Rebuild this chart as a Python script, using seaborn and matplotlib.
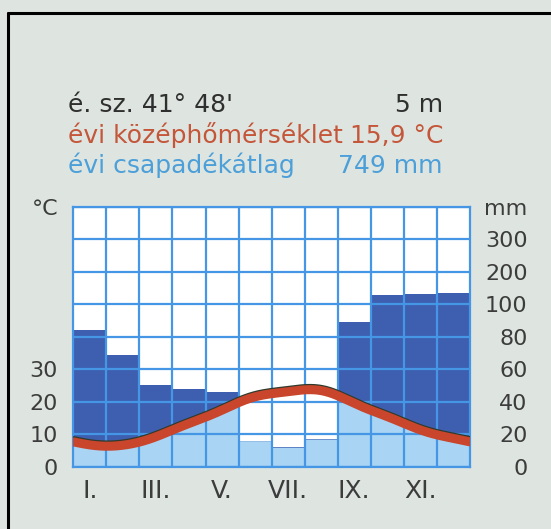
import numpy as np
import pandas as pd
import matplotlib
matplotlib.use("Agg")
import matplotlib.pyplot as plt
import matplotlib.patheffects as pe
from matplotlib.lines import Line2D
import seaborn as sns

# monthly data
months = ["I.", "II.", "III.", "IV.", "V.", "VI.", "VII.", "VIII.", "IX.", "X.", "XI.", "XII."]
temp_c = [6.7, 6.6, 9.2, 13.3, 17.4, 21.5, 23.1, 23.4, 19.5, 15.4, 11.3, 8.7]
precip_mm = [84, 69, 50, 48, 46, 16, 12, 17, 89, 128, 130, 133]

x_tick_labels = ["I.", "III.", "V.", "VII.", "IX.", "XI."]
temp_ticks = [0, 10, 20, 30, 80]
temp_tick_labels = ["0", "10", "20", "30", "°C"]
precip_ticks = [0, 20, 40, 60, 80, 100, 200, 300, 400]
precip_tick_labels = ["0", "20", "40", "60", "80", "100", "200", "300", "mm"]

header_left = ["é. sz. 41° 48'", "évi középhőmérséklet", "évi csapadékátlag"]
header_right = ["5 m", "15,9 °C", "749 mm"]

BG = "#dee5e0"
GRID = "#4597e6"
DARK = "#3e5fb0"
LIGHT = "#a9d4f4"
RED = "#c9452b"
TXT = "#3c3c3c"


def precip_forward(mm):
    mm = np.asarray(mm, dtype=float)
    return np.where(mm <= 100, mm / 20.0, 5 + (mm - 100) / 100.0)


def precip_inverse(r):
    r = np.asarray(r, dtype=float)
    return np.where(r <= 5, r * 20.0, 100 + (r - 5) * 100.0)


def smooth_temperature(values, xs):
    # periodic trigonometric interpolation through the monthly means
    vals = np.asarray(values, dtype=float)
    n = len(vals)
    coef = np.fft.rfft(vals) / n
    out = np.full_like(xs, coef[0].real)
    for k in range(1, n // 2 + 1):
        w = 1.0 if k == n // 2 else 2.0
        out += w * np.real(coef[k] * np.exp(2j * np.pi * k * xs / n))
    return out


sns.set_theme(style="white")
plt.rcParams["font.family"] = ["DejaVu Sans"]

fig = plt.figure(figsize=(5.51, 5.29), dpi=100, facecolor=BG)
ax = fig.add_axes([0.133, 0.1178, 0.72, 0.4915])
ax.set_yscale("function", functions=(precip_forward, precip_inverse))

df = pd.DataFrame({"month": months, "precip": precip_mm})
sns.barplot(data=df, x="month", y="precip", ax=ax, color=DARK, width=1.0,
            saturation=1, linewidth=0, zorder=1)

xs = np.linspace(-0.5, 11.5, 2401)
curve = smooth_temperature(temp_c, xs)
idx = np.clip(np.floor(xs + 0.5).astype(int), 0, 11)
step_precip = np.asarray(precip_mm, dtype=float)[idx]
ax.fill_between(xs, 0, np.minimum(step_precip, 2 * curve), color=LIGHT, lw=0, zorder=1.5)

ax.set_facecolor("white")
ax.set_xlim(-0.5, 11.5)
ax.set_ylim(0, 400)
ax.set_xlabel("")
ax.set_ylabel("")
ax.set_xticks(range(0, 12, 2))
ax.set_xticklabels(x_tick_labels)
ax.set_xticks(np.arange(0.5, 11, 1), minor=True)
ax.set_yticks(precip_ticks)
ax.set_yticklabels(precip_tick_labels)
ax.yaxis.set_minor_locator(matplotlib.ticker.NullLocator())
ax.set_axisbelow(False)
ax.grid(False)
ax.grid(which="minor", axis="x", color=GRID, lw=1.6)
ax.grid(which="major", axis="y", color=GRID, lw=1.6)
for s in ax.spines.values():
    s.set_color(GRID)
    s.set_linewidth(1.6)

ax_t = ax.twinx()
ax_t.set_ylim(0, 80)
sns.lineplot(x=xs, y=curve, ax=ax_t, color=RED, lw=6.5, estimator=None, sort=False,
             path_effects=[pe.Stroke(linewidth=6.5, foreground="#2e3b2c", offset=(0, 0.9)),
                           pe.Normal()])
ax_t.set_yticks(temp_ticks)
ax_t.set_yticklabels(temp_tick_labels)
ax_t.grid(False)
for s in ax_t.spines.values():
    s.set_visible(False)

# temperature labels on the left, precipitation labels on the right
ax.yaxis.tick_right()
ax_t.yaxis.tick_left()
ax.tick_params(axis="y", which="both", length=0, pad=41.5, labelsize=16, labelcolor=TXT)
for lab in ax.get_yticklabels():
    lab.set_horizontalalignment("right")
ax_t.tick_params(axis="y", length=0, pad=11, labelsize=16, labelcolor=TXT)
ax.tick_params(axis="x", which="both", length=0, pad=9, labelsize=18, labelcolor=TXT)

# header lines
colors = ["#2f2f2f", "#c4563a", "#4c9fd8"]
for i, (l, r, c) in enumerate(zip(header_left, header_right, colors)):
    y = 1 - (112 + 30.5 * i) / 529
    fig.text(68 / 551, y, l, color=c, fontsize=18, ha="left", va="baseline")
    fig.text(443 / 551, y, r, color=c, fontsize=18, ha="right", va="baseline")

# frame lines (top and left)
fig.add_artist(Line2D([8 / 551, 8 / 551], [0, 1 - 13 / 529], color="black", lw=2.2,
                      transform=fig.transFigure))
fig.add_artist(Line2D([8 / 551, 1], [1 - 13 / 529, 1 - 13 / 529], color="black", lw=2.2,
                      transform=fig.transFigure))

fig.savefig("out.png", dpi=100, facecolor=BG)
